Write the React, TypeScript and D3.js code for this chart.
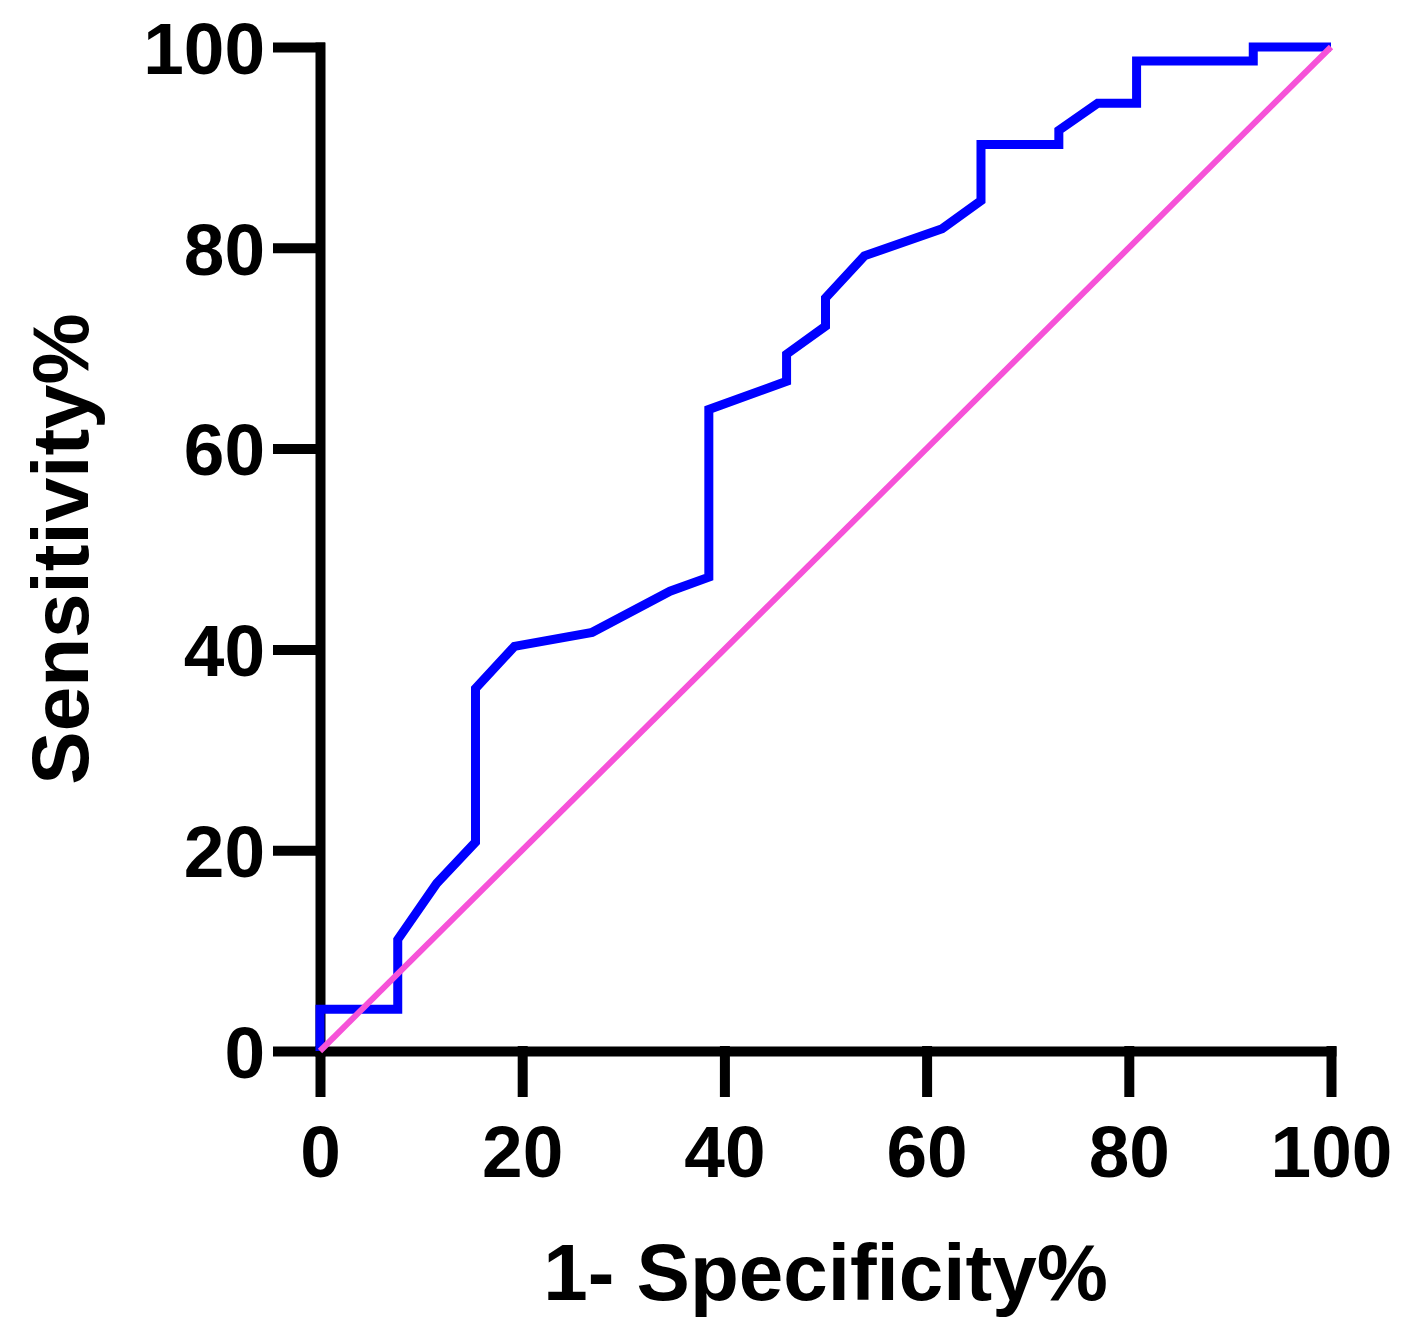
import React, { useEffect, useRef } from 'react';
import * as d3 from 'd3';

// ROC curve (1 - specificity %, sensitivity %)
const rocFpr = [0, 0, 7.69, 7.69, 11.54, 15.38, 15.38, 19.23, 26.92, 34.62, 38.46, 38.46, 46.15, 46.15, 50, 50, 53.85, 61.54, 65.38, 65.38, 73.08, 73.08, 76.92, 80.77, 80.77, 92.31, 92.31, 100];
const rocTpr = [0, 4.17, 4.17, 11.1, 16.7, 20.8, 36.1, 40.3, 41.7, 45.8, 47.2, 63.9, 66.7, 69.4, 72.2, 75, 79.2, 81.9, 84.7, 90.3, 90.3, 91.7, 94.4, 94.4, 98.6, 98.6, 100, 100];

// reference (chance) line
const refX = [0, 100];
const refY = [0, 100];

const xTicks = [0, 20, 40, 60, 80, 100];
const yTicks = [0, 20, 40, 60, 80, 100];

const xTitle = '1- Specificity%';
const yTitle = 'Sensitivity%';

const App: React.FC = () => {
  const svgRef = useRef<SVGSVGElement>(null);

  useEffect(() => {
    if (!svgRef.current) return;
    const svg = d3.select(svgRef.current);
    svg.selectAll('*').remove();

    const width = 1413;
    const height = 1339;
    const font = "'Liberation Sans', Arial, Helvetica, sans-serif";

    const x = d3.scaleLinear().domain([0, 100]).range([320, 1331]);
    const y = d3.scaleLinear().domain([0, 100]).range([1051, 47]);

    svg.attr('width', width).attr('height', height);
    svg.append('rect').attr('width', width).attr('height', height).attr('fill', '#fff');

    // x axis
    const gx = svg.append('g')
      .attr('transform', `translate(0,${y(0)})`)
      .call(d3.axisBottom(x).tickValues(xTicks).tickSize(41).tickSizeOuter(0).tickPadding(33));

    // y axis
    const gy = svg.append('g')
      .attr('transform', `translate(${x(0)},0)`)
      .call(d3.axisLeft(y).tickValues(yTicks).tickSize(42).tickSizeOuter(0).tickPadding(13));

    [gx, gy].forEach(g => {
      g.select('.domain')
        .attr('stroke', '#000')
        .attr('stroke-width', 10)
        .attr('stroke-linecap', 'square');
      g.selectAll('.tick line')
        .attr('stroke', '#000')
        .attr('stroke-width', 10)
        .attr('stroke-linecap', 'square');
      g.selectAll('.tick text')
        .attr('fill', '#000')
        .style('font-family', font)
        .style('font-weight', 'bold')
        .style('font-size', '73px');
    });
    gy.selectAll('.tick text').attr('dy', '0.36em');

    // ROC curve
    const line = d3.line<number>()
      .x(i => x(rocFpr[i]))
      .y(i => y(rocTpr[i]));

    svg.append('path')
      .attr('d', line(d3.range(rocFpr.length)))
      .attr('fill', 'none')
      .attr('stroke', '#0000ff')
      .attr('stroke-width', 9)
      .attr('stroke-linejoin', 'miter');

    // chance line
    const refLine = d3.line<number>()
      .x(i => x(refX[i]))
      .y(i => y(refY[i]));

    svg.append('path')
      .attr('d', refLine(d3.range(refX.length)))
      .attr('fill', 'none')
      .attr('stroke', '#f652d8')
      .attr('stroke-width', 6);

    // axis titles
    svg.append('text')
      .attr('x', (x(0) + x(100)) / 2)
      .attr('y', 1300)
      .attr('text-anchor', 'middle')
      .style('font-family', font)
      .style('font-weight', 'bold')
      .style('font-size', '80px')
      .text(xTitle);

    svg.append('text')
      .attr('transform', `translate(88,${(y(0) + y(100)) / 2}) rotate(-90)`)
      .attr('text-anchor', 'middle')
      .style('font-family', font)
      .style('font-weight', 'bold')
      .style('font-size', '80px')
      .text(yTitle);
  }, []);

  return (
    <svg ref={svgRef} width="1413" height="1339" style={{ position: 'absolute', left: 0, top: 0, display: 'block' }} />
  );
};

export default App;
